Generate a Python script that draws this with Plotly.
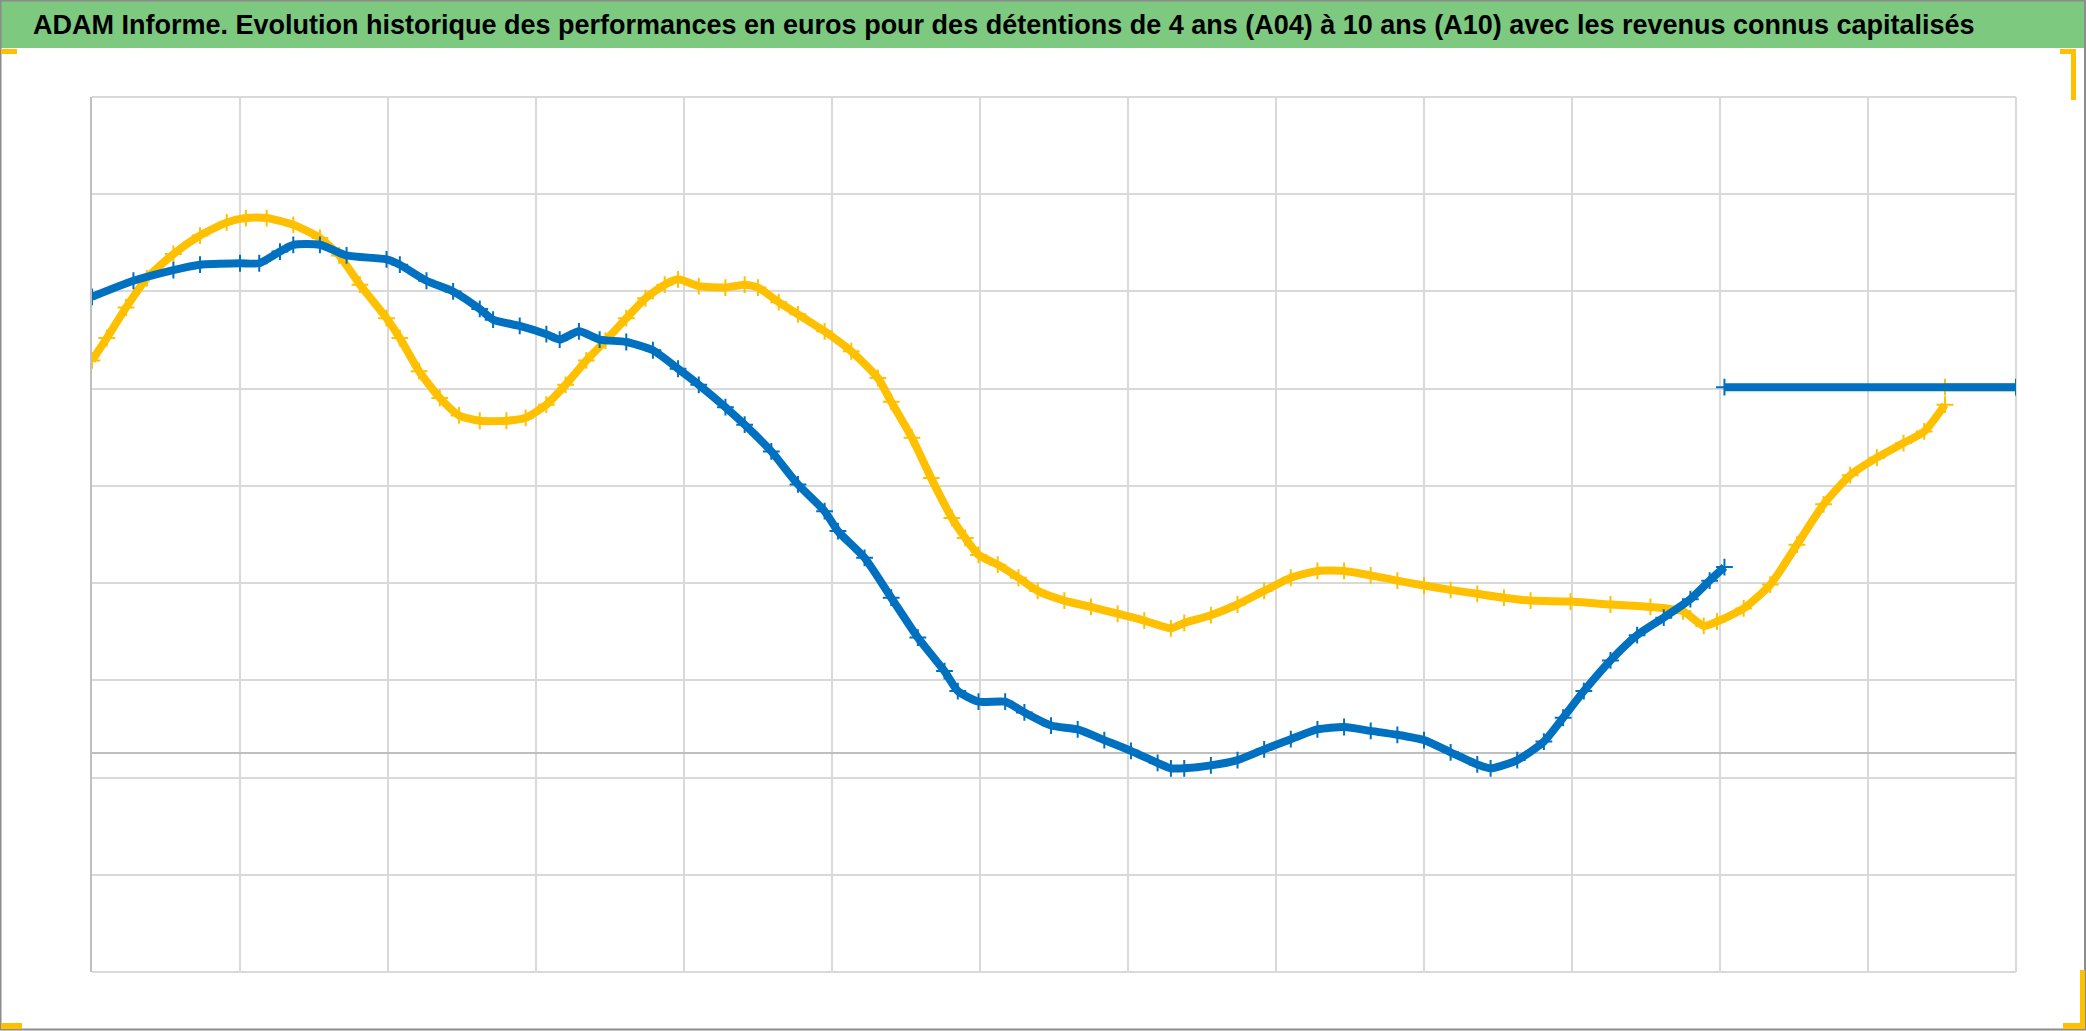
import plotly.graph_objects as go

# ---- data (x in years from start of chart, y in % ) ----
blue_x = [0.00, 0.28, 0.55, 0.73, 1.00, 1.13, 1.27, 1.36, 1.54, 1.72, 1.99, 2.08, 2.26, 2.44,
          2.62, 2.71, 2.89, 3.07, 3.16, 3.29, 3.43, 3.61, 3.79, 3.96, 4.10, 4.28, 4.41, 4.59,
          4.77, 4.95, 5.04, 5.22, 5.40, 5.58, 5.76, 5.85, 5.99, 6.17, 6.30, 6.48, 6.66, 6.84,
          7.02, 7.20, 7.29, 7.38, 7.56, 7.74, 7.92, 8.10, 8.28, 8.46, 8.64, 8.82, 9.00, 9.18,
          9.36, 9.45, 9.63, 9.81, 9.94, 10.08, 10.26, 10.44, 10.62, 10.80, 10.93, 11.03]
blue_y = [93.9, 97.2, 99.4, 100.5, 100.8, 100.8, 103.2, 104.6, 104.6, 102.4, 101.6, 100.5, 97.2, 95.0,
          91.4, 89.2, 87.9, 86.2, 85.1, 86.8, 85.1, 84.6, 82.9, 79.1, 75.8, 71.2, 67.6, 62.1,
          55.3, 49.8, 45.7, 40.2, 32.0, 23.8, 16.9, 12.8, 10.6, 10.6, 8.4, 5.7, 4.9, 2.7,
          0.5, -2.0, -3.1, -3.1, -2.5, -1.4, 0.8, 2.9, 4.9, 5.4, 4.6, 3.8, 2.7, 0.2,
          -2.3, -3.1, -1.4, 2.4, 7.3, 12.8, 19.1, 24.3, 27.9, 31.7, 35.5, 38.3]
blue_flat_x = [11.03, 13.0]
blue_flat_y = [75.3, 75.3]

yellow_x = [0.00, 0.10, 0.23, 0.37, 0.55, 0.73, 0.91, 1.04, 1.18, 1.36, 1.54, 1.67, 1.81, 1.99,
            2.08, 2.21, 2.35, 2.48, 2.62, 2.80, 2.93, 3.07, 3.20, 3.34, 3.47, 3.61, 3.74, 3.87,
            3.96, 4.10, 4.28, 4.41, 4.50, 4.64, 4.77, 4.95, 5.13, 5.31, 5.40, 5.54, 5.67, 5.81,
            5.90, 5.99, 6.12, 6.26, 6.39, 6.57, 6.75, 6.93, 7.11, 7.29, 7.38, 7.56, 7.74, 7.92,
            8.10, 8.28, 8.46, 8.64, 8.82, 9.00, 9.18, 9.36, 9.54, 9.72, 9.99, 10.26, 10.53, 10.75,
            10.89, 10.98, 11.16, 11.34, 11.52, 11.70, 11.88, 12.06, 12.24, 12.38, 12.52]
yellow_y = [80.8, 85.4, 91.7, 97.7, 102.7, 106.5, 109.2, 110.1, 110.1, 108.7, 106.0, 102.4, 96.4, 89.5,
            85.4, 78.6, 73.1, 69.5, 68.4, 68.4, 69.0, 71.7, 75.8, 80.8, 84.9, 89.5, 93.6, 96.4,
            97.5, 96.1, 95.8, 96.4, 95.8, 92.8, 90.3, 86.8, 82.7, 77.2, 72.3, 64.9, 56.6, 48.4,
            44.3, 40.8, 38.8, 36.1, 33.4, 31.4, 30.1, 28.7, 27.3, 25.7, 26.8, 28.4, 30.6, 33.4,
            36.1, 37.5, 37.5, 36.6, 35.5, 34.5, 33.6, 32.8, 32.0, 31.4, 31.2, 30.6, 30.1, 29.2,
            26.2, 27.1, 29.8, 34.7, 42.9, 51.2, 57.2, 60.8, 63.8, 66.2, 71.7]
yellow_flat_x = [12.52, 13.0]
yellow_flat_y = [75.3, 75.3]

title_text = ("ADAM Informe. Evolution historique des performances en euros pour des détentions "
              "de 4 ans (A04) à 10 ans (A10) avec les revenus connus capitalisés")

BLUE = "#0070C0"
YELLOW = "#FFC000"
GRID = "#d9d9d9"

W, H = 2086, 1031
ML, MR, MT, MB = 92, 70, 97, 59
PW, PH = W - ML - MR, H - MT - MB


def px_x(p):
    return (p - ML) / PW


def px_y(p):
    return 1 - (p - MT) / PH


fig = go.Figure()


def add_series(x, y, color, smooth=True):
    fig.add_trace(go.Scatter(
        x=x, y=y, mode="lines+markers",
        line=dict(color=color, width=8, shape="spline" if smooth else "linear", smoothing=0.6),
        marker=dict(symbol="cross-thin", size=12, line=dict(color=color, width=2), color=color),
        showlegend=False, hoverinfo="skip"))


add_series(yellow_x, yellow_y, YELLOW)
add_series(yellow_flat_x, yellow_flat_y, YELLOW, smooth=False)
add_series(blue_x, blue_y, BLUE)
add_series(blue_flat_x, blue_flat_y, BLUE, smooth=False)

shapes = [
    # green title band
    dict(type="rect", xref="paper", yref="paper", x0=px_x(0), x1=px_x(W), y0=px_y(48), y1=px_y(0),
         fillcolor="#7DC97F", line=dict(width=0), layer="below"),
    # edge grid lines that plotly does not draw at the range ends
    dict(type="line", xref="paper", yref="paper", x0=0, x1=1, y0=1, y1=1,
         line=dict(color=GRID, width=2), layer="below"),
    dict(type="line", xref="paper", yref="paper", x0=0, x1=1, y0=0, y1=0,
         line=dict(color=GRID, width=2), layer="below"),
    dict(type="line", xref="paper", yref="paper", x0=1, x1=1, y0=0, y1=1,
         line=dict(color=GRID, width=2), layer="below"),
    # outer border
    dict(type="rect", xref="paper", yref="paper", x0=px_x(0.5), x1=px_x(W - 1), y0=px_y(H - 1.5), y1=px_y(0.5),
         fillcolor="rgba(0,0,0,0)", line=dict(color="#8c8c8c", width=2)),
    # yellow corner marks
    dict(type="rect", xref="paper", yref="paper", x0=px_x(1), x1=px_x(17), y0=px_y(54), y1=px_y(49),
         fillcolor=YELLOW, line=dict(width=0)),
    dict(type="rect", xref="paper", yref="paper", x0=px_x(2060), x1=px_x(2076), y0=px_y(54), y1=px_y(49),
         fillcolor=YELLOW, line=dict(width=0)),
    dict(type="rect", xref="paper", yref="paper", x0=px_x(2071), x1=px_x(2076), y0=px_y(100), y1=px_y(49),
         fillcolor=YELLOW, line=dict(width=0)),
    dict(type="rect", xref="paper", yref="paper", x0=px_x(1), x1=px_x(22), y0=px_y(1029), y1=px_y(1023),
         fillcolor=YELLOW, line=dict(width=0)),
    dict(type="rect", xref="paper", yref="paper", x0=px_x(2063), x1=px_x(2085), y0=px_y(1029), y1=px_y(1023),
         fillcolor=YELLOW, line=dict(width=0)),
    dict(type="rect", xref="paper", yref="paper", x0=px_x(2080), x1=px_x(2085), y0=px_y(1029), y1=px_y(970),
         fillcolor=YELLOW, line=dict(width=0)),
]

fig.update_layout(
    width=W, height=H,
    margin=dict(l=ML, r=MR, t=MT, b=MB, pad=0),
    paper_bgcolor="white", plot_bgcolor="white",
    shapes=shapes,
    annotations=[dict(
        text="<b>" + title_text + "</b>", xref="paper", yref="paper",
        x=px_x(1004), y=px_y(25), xanchor="center", yanchor="middle", showarrow=False,
        font=dict(family="Liberation Sans, Arial", size=27, color="black"))],
    xaxis=dict(range=[0, 13], tick0=0, dtick=1, showgrid=True, gridcolor=GRID, gridwidth=2,
               showticklabels=False, ticks="", zeroline=False, showline=False, fixedrange=True),
    yaxis=dict(range=[-45, 135], tick0=-45, dtick=20, showgrid=True, gridcolor=GRID, gridwidth=2,
               showticklabels=False, ticks="", zeroline=True, zerolinecolor="#bfbfbf", zerolinewidth=2,
               showline=True, linecolor="#bfbfbf", linewidth=2, fixedrange=True),
)

fig.write_html("out.html",
               config={"displayModeBar": False},
               post_script="document.body.style.margin='0';document.body.style.overflow='hidden';")
